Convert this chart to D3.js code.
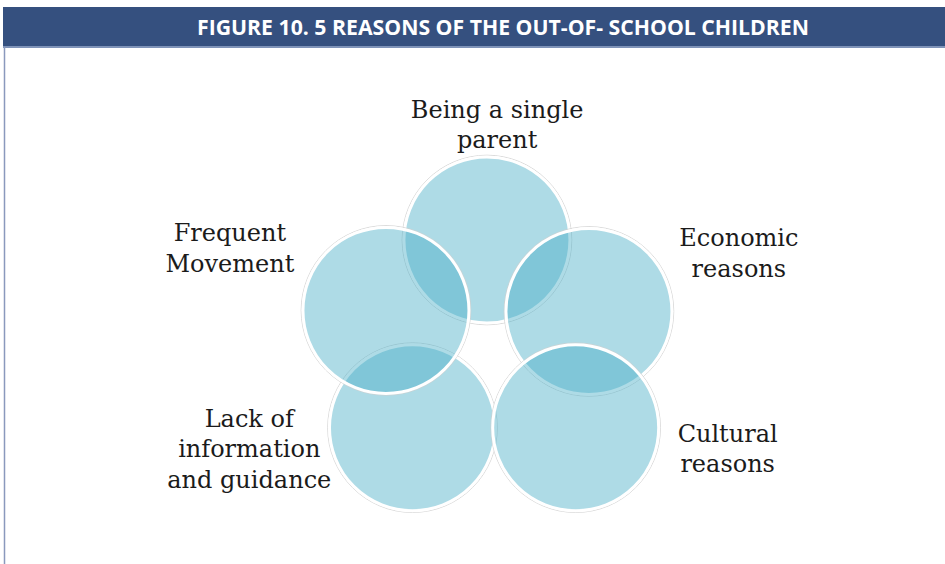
<!DOCTYPE html>
<html>
<head>
<meta charset="utf-8">
<script src="https://cdn.jsdelivr.net/npm/d3@7"></script>
<style>
  body { margin: 0; background: #fff; }
  .label { font-family: "DejaVu Serif", serif; font-size: 24px; fill: #1b1b1b; }
  .title { font-family: "Open Sans", sans-serif; font-weight: 700; font-size: 22px; fill: #fff; }
</style>
</head>
<body>
<script>
// figure title
const TITLE = "FIGURE 10. 5 REASONS OF THE OUT-OF- SCHOOL CHILDREN";

// the five reasons, clockwise from the top
const reasons = ["Being a single parent", "Economic reasons", "Cultural reasons",
                 "Lack of information and guidance", "Frequent Movement"];
// how each reason label is broken into lines
const reasonLines = [
  ["Being a single", "parent"],
  ["Economic", "reasons"],
  ["Cultural", "reasons"],
  ["Lack of", "information", "and guidance"],
  ["Frequent", "Movement"]
];

let width = 945, height = 564;

let svg = d3.select("body").append("svg")
  .attr("width", width)
  .attr("height", height);

/*** frame + header bar ***/
svg.append("rect")
  .attr("x", 3).attr("y", 7)
  .attr("width", width - 3).attr("height", 39)
  .attr("fill", "#35507f");
svg.append("rect")
  .attr("x", 3).attr("y", 46)
  .attr("width", width - 3).attr("height", 2)
  .attr("fill", "#7f93b8");
svg.append("line")
  .attr("x1", 4.5).attr("x2", 4.5)
  .attr("y1", 47).attr("y2", height)
  .attr("stroke", "#8a99bd")
  .attr("stroke-width", 1.5);

svg.append("text")
  .attr("class", "title")
  .attr("x", 503).attr("y", 35)
  .attr("text-anchor", "middle")
  .attr("textLength", 612)
  .attr("lengthAdjust", "spacingAndGlyphs")
  .text(TITLE);

/*** the cycle diagram ***/
// layout of the five slots, in units of the diagram (x: left/right, y: up/down)
// the original layout is a slightly squashed pentagon
let slots = [
  {dx: -0.03, dy: -1.00, lx: 0.07, ly: -2.20},
  {dx: 0.97, dy: -0.30, lx: 2.44, ly: -0.94},
  {dx: 0.84, dy: 0.84, lx: 2.33, ly: 0.98},
  {dx: -0.76, dy: 0.84, lx: -2.36, ly: 0.83},
  {dx: -1.02, dy: -0.31, lx: -2.55, ly: -0.99}
];

let xScale = d3.scaleLinear().domain([-1, 1]).range([388, 592]);
let yScale = d3.scaleLinear().domain([-1, 1]).range([240, 444]);
let radius = 83;

let nodes = reasons.map(function(r, i) {
  return {name: r, lines: reasonLines[i], slot: slots[i]};
});

// drawing order decides which white rim lies on top in the overlaps
let drawOrder = [0, 3, 4, 1, 2];

let circles = svg.append("g");
drawOrder.forEach(function(i) {
  let d = nodes[i];
  let g = circles.append("g")
    .attr("transform", "translate(" + xScale(d.slot.dx) + "," + yScale(d.slot.dy) + ")");
  // soft grey edge outside the white rim
  g.append("circle")
    .attr("r", radius + 1.8)
    .attr("fill", "none")
    .attr("stroke", "#cfcfcf")
    .attr("stroke-width", 1)
    .attr("stroke-opacity", 0.8);
  g.append("circle")
    .attr("r", radius)
    .attr("fill", "rgba(68,172,197,0.43)")
    .attr("stroke", "#fff")
    .attr("stroke-width", 3);
});

// labels
let lineHeight = 30.5;
nodes.forEach(function(d) {
  let t = svg.append("text")
    .attr("class", "label")
    .attr("text-anchor", "middle")
    .attr("y", yScale(d.slot.ly));
  t.selectAll("tspan")
    .data(d.lines)
    .enter().append("tspan")
      .attr("x", xScale(d.slot.lx))
      .attr("dy", function(l, j) { return j === 0 ? 0 : lineHeight; })
      .text(function(l) { return l; });
});
</script>
</body>
</html>
